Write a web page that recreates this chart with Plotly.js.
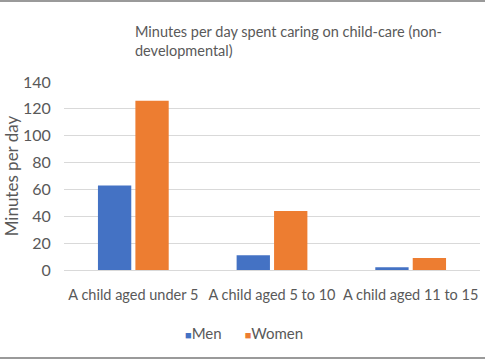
<!DOCTYPE html>
<html><head><meta charset="utf-8">
<script src="https://cdn.plot.ly/plotly-3.0.1.min.js"></script>
<style>
html,body{margin:0;padding:0;background:#fff;}
#wrap{position:relative;width:485px;height:360px;overflow:hidden;}
#chart{width:485px;height:360px;}
.ln{position:absolute;left:0;width:485px;height:2px;background:#9a9a9a;}
</style></head>
<body><div id="wrap"><div id="chart"></div><div class="ln" style="top:0"></div><div class="ln" style="top:357px"></div></div>
<script>
const categories = ["A child aged under 5", "A child aged 5 to 10", "A child aged 11 to 15"];
const menValues = [63, 11, 2];
const womenValues = [126, 44, 9];
const seriesNames = ["Men", "Women"];
const seriesColors = ["#4472C4", "#ED7D31"];
const yTicks = [0, 20, 40, 60, 80, 100, 120, 140];

const font = "Lato, sans-serif";
const grey = "#595959";
const data = [
  {type: "bar", name: seriesNames[0], x: categories, y: menValues, marker: {color: seriesColors[0]}, hoverinfo: "none"},
  {type: "bar", name: seriesNames[1], x: categories, y: womenValues, marker: {color: seriesColors[1]}, hoverinfo: "none"}
];
const legendText = seriesNames.map((n, i) => `<span style="color:${seriesColors[i]};font-size:11px">■</span>${n}`).join("&nbsp;&nbsp;&nbsp;&nbsp;&nbsp;&nbsp;");
const layout = {
  width: 485, height: 360,
  margin: {l: 64, r: 5, t: 82, b: 90},
  paper_bgcolor: "#fff", plot_bgcolor: "#fff",
  barmode: "group", bargap: 0.46, bargroupgap: 0.11,
  font: {family: font, color: grey, size: 15},
  showlegend: false,
  xaxis: {tickfont: {size: 14.5, color: grey}, showline: true, linecolor: "#d9d9d9", ticks: "outside", ticklen: 12, tickcolor: "rgba(0,0,0,0)", fixedrange: true},
  yaxis: {range: [0, 140], tickvals: yTicks, ticktext: yTicks.map(String), tickfont: {size: 16, color: grey}, gridcolor: "#d9d9d9", zeroline: false, ticks: "outside", ticklen: 9, tickcolor: "rgba(0,0,0,0)", fixedrange: true, automargin: true,
    title: {text: "Minutes per day", font: {size: 17, color: grey}, standoff: 0}},
  annotations: [
    {xref: "paper", yref: "paper", x: (133-64)/416, y: 1, yshift: 21, xanchor: "left", yanchor: "bottom", align: "left", showarrow: false,
     text: "Minutes per day spent caring on child-care (non-<br>developmental)", font: {size: 14.5, color: grey, family: font}},
    {xref: "paper", yref: "paper", x: (244-64)/416, y: 0, yshift: -63, xanchor: "center", yanchor: "middle", showarrow: false,
     text: legendText, font: {size: 15, color: grey, family: font}}
  ]
};
Plotly.newPlot("chart", data, layout, {staticPlot: true});
</script></body></html>
